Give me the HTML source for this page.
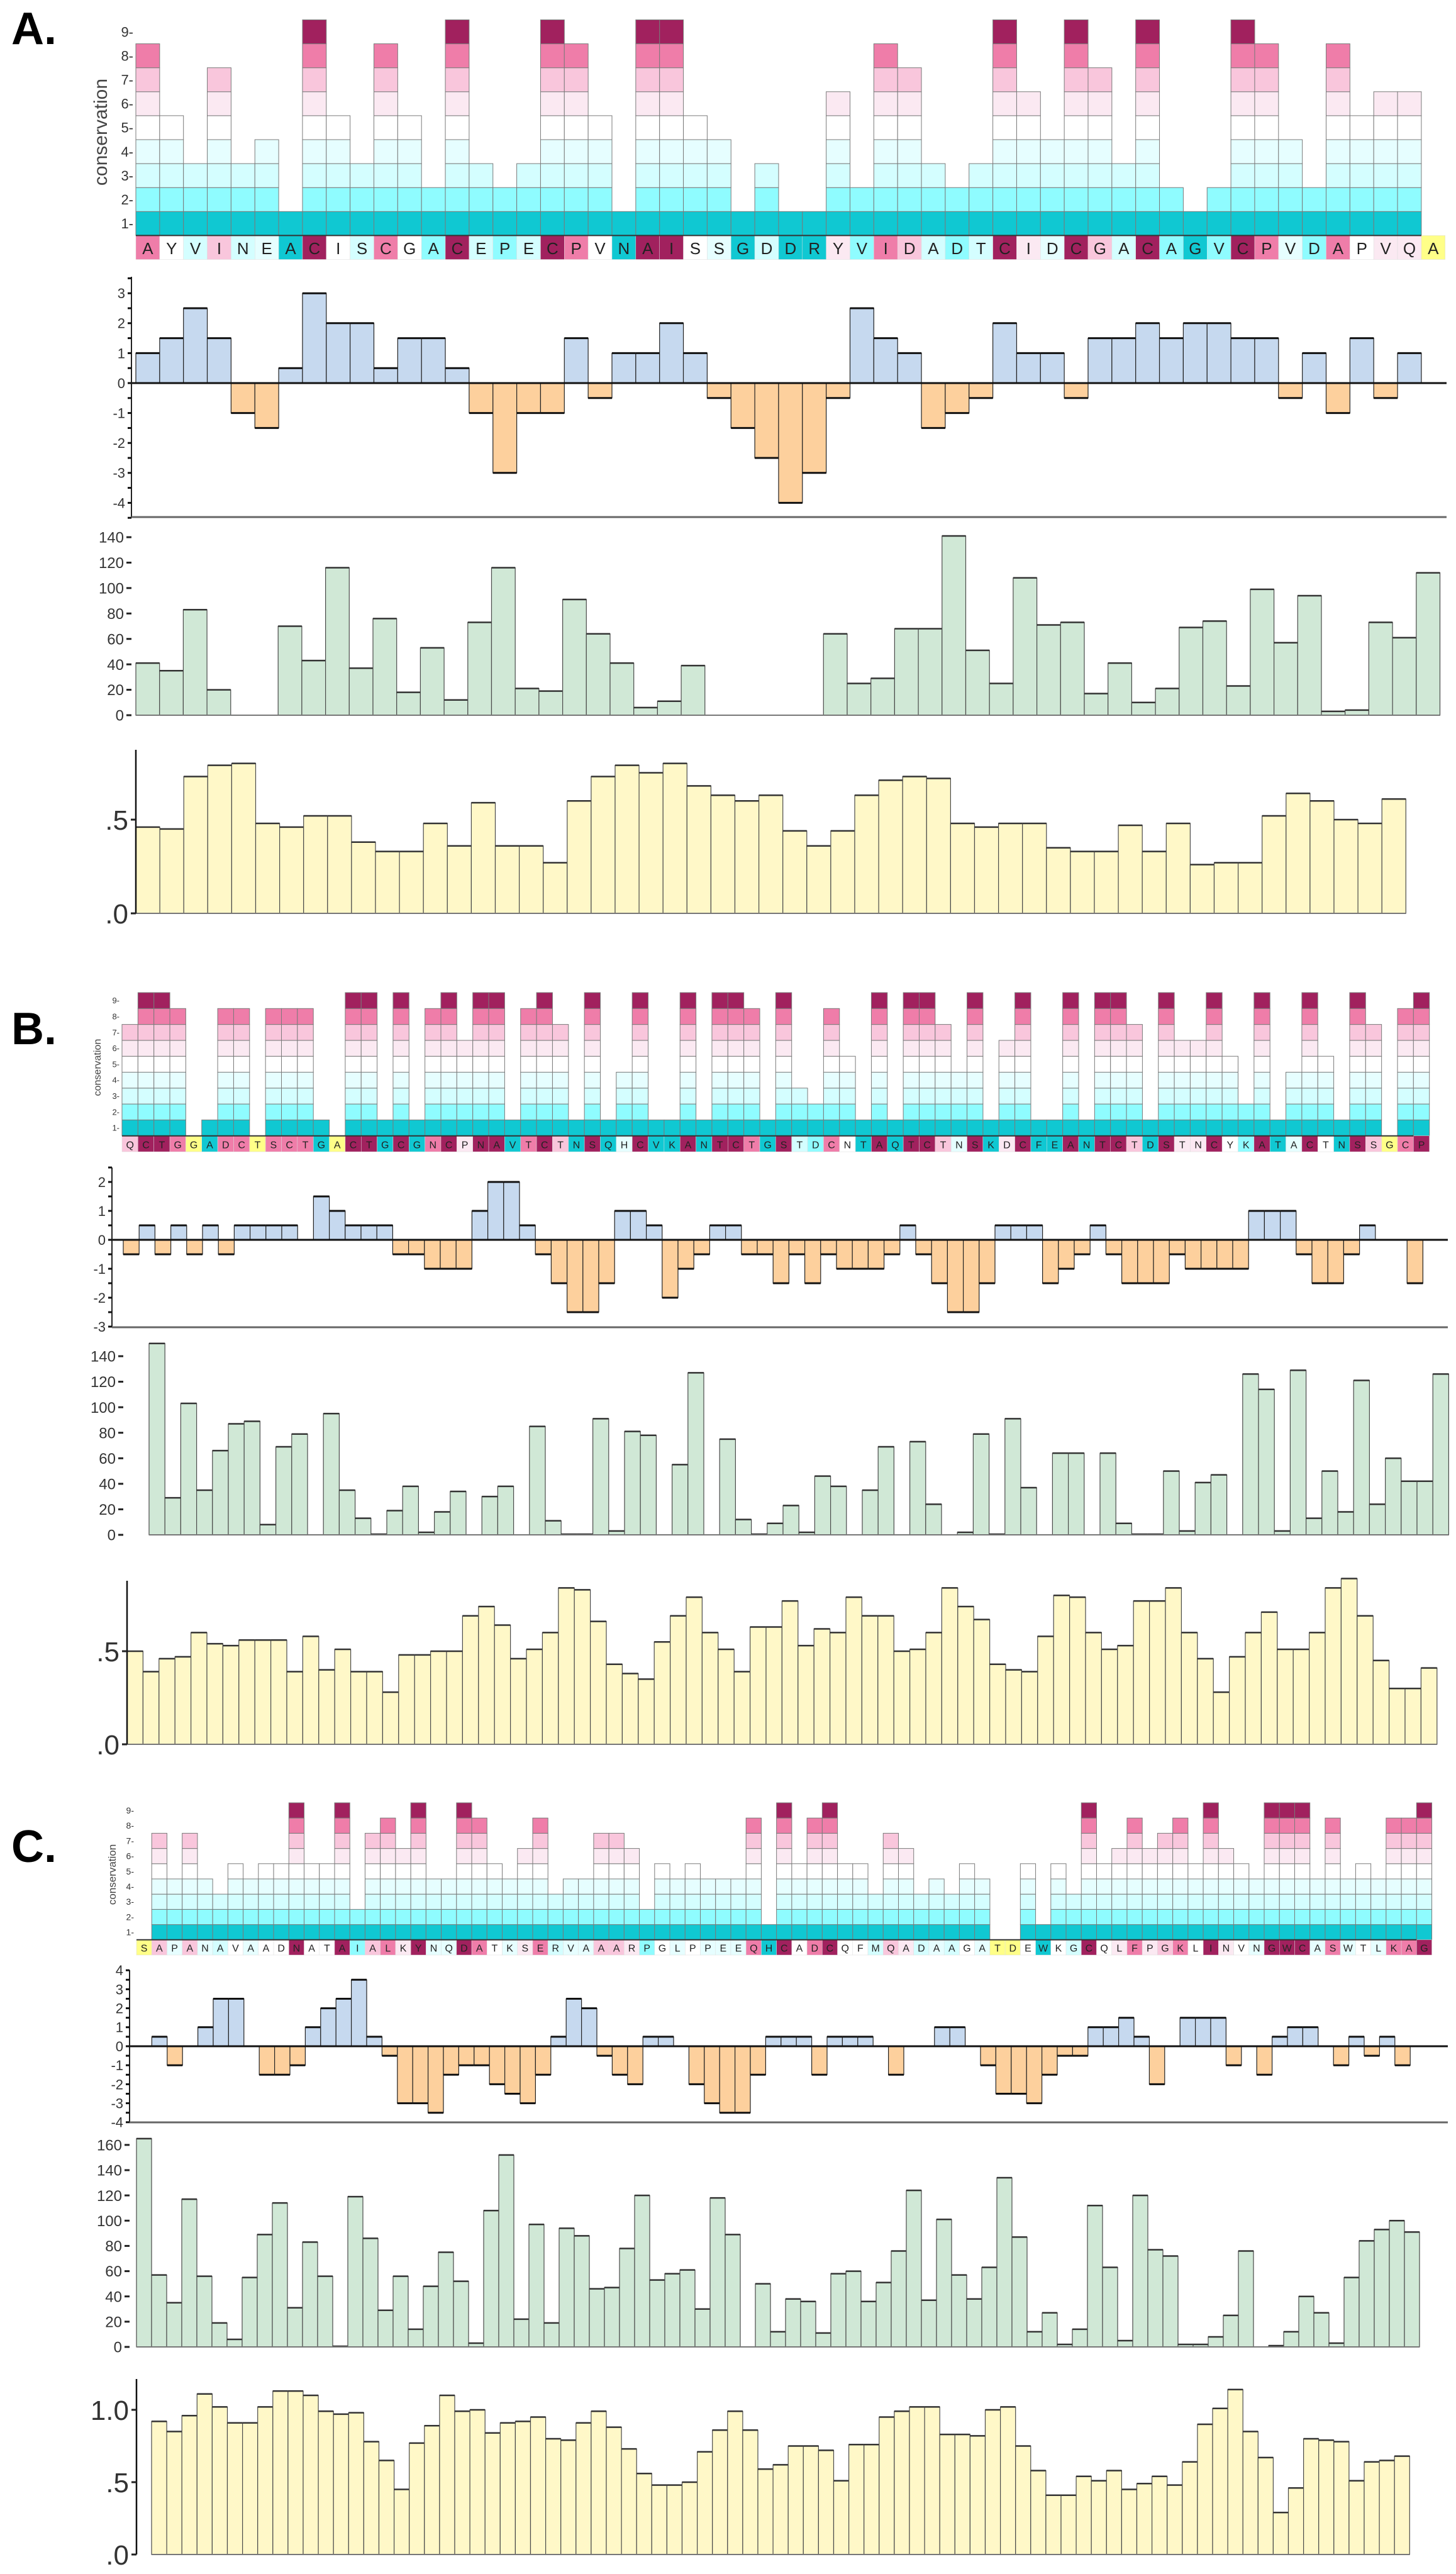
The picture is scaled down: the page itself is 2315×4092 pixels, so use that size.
<!DOCTYPE html>
<html><head><meta charset="utf-8"><title>Conservation profiles</title>
<style>
html,body{margin:0;padding:0;background:#fff;}
svg{display:block;font-family:"Liberation Sans",sans-serif;}
</style></head>
<body>
<svg id="fig" width="2315" height="4092" viewBox="0 0 2315 4092" xmlns="http://www.w3.org/2000/svg">
<text x="18" y="70" font-size="72" font-weight="bold">A.</text>
<text x="18" y="1660" font-size="72" font-weight="bold">B.</text>
<text x="18" y="2960" font-size="72" font-weight="bold">C.</text>
</svg>
<script>
// ---------- Panel A data ----------
const seqA = "AYVINEACISCGACEPECPVNAISSGDDRYVIDADTCIDCGACAGVCPVDAPVQA";
const consA = [8,5,3,7,3,4,1,9,5,3, 8,5,2,9,3,2,3,9,8,5, 1,9,9,5,4,1,3,1,1,6, 2,8,7,3,2,3,9,6,4,9, 7,3,9,2,1,2,9,8,4,2, 8,5,6,6,0];
const hydroA = [1,1.5,2.5,1.5,-1,-1.5,0.5,3,2,2,0.5,1.5,1.5,0.5,-1,-3,-1,-1,1.5,-0.5,1,1,2,1,-0.5,-1.5,-2.5,-4,-3,-0.5,2.5,1.5,1,-1.5,-1,-0.5,2,1,1,-0.5,1.5,1.5,2,1.5,2,2,1.5,1.5,-0.5,1,-1,1.5,-0.5,1];
const greenA = [41,35,83,20,0,0,70,43,116,37,76,18,53,12,73,116,21,19,91,64,41,6,11,39,0,0,0,0,0,64,25,29,68,68,141,51,25,108,71,73,17,41,10,21,69,74,23,99,57,94,3,4,73,61,112];
const yellowA = [.46,.45,.73,.79,.80,.48,.46,.52,.52,.38,.33,.33,.48,.36,.59,.36,.36,.27,.60,.73,.79,.75,.80,.68,.63,.60,.63,.44,.36,.44,.63,.71,.73,.72,.48,.46,.48,.48,.35,.33,.33,.47,.33,.48,.26,.27,.27,.52,.64,.60,.50,.48,.61];
const hydroTicksA = ["-4","-3","-2","-1","0","1","2","3"];
const greenTicksA = ["0","20","40","60","80","100","120","140"];

// ---------- Panel B data ----------
const seqB = "QCTGGADCTSCTGACTGCGNCPNAVTCTNSQHCVKANTCTGSTDCNTAQTCTNSKDCFEANTCTDSTNCYKATACTNSSGCP";
const consB = [7,9,9,8,0,1,8,8,0,8, 8,8,1,0,9,9,1,9,1,8, 9,6,9,9,1,8,9,7,1,9, 1,4,9,1,1,9,1,9,9,8, 1,9,3,2,8,5,1,9,1,9, 9,7,4,9,1,6,9,1,1,9, 1,9,9,7,1,9,6,6,9,5, 2,9,1,4,9,5,1,9,7,0, 8,9];
const hydroB = [-0.5,0.5,-0.5,0.5,-0.5,0.5,-0.5,0.5,0.5,0.5,0.5,0,1.5,1,0.5,0.5,0.5,-0.5,-0.5,-1,-1,-1,1,2,2,0.5,-0.5,-1.5,-2.5,-2.5,-1.5,1,1,0.5,-2,-1,-0.5,0.5,0.5,-0.5,-0.5,-1.5,-0.5,-1.5,-0.5,-1,-1,-1,-0.5,0.5,-0.5,-1.5,-2.5,-2.5,-1.5,0.5,0.5,0.5,-1.5,-1,-0.5,0.5,-0.5,-1.5,-1.5,-1.5,-0.5,-1,-1,-1,-1,1,1,1,-0.5,-1.5,-1.5,-0.5,0.5,0,0,-1.5];
const greenB = [150,29,103,35,66,87,89,8,69,79,0,95,35,13,0.5,19,38,2,18,34,0,30,38,0,85,11,0.5,0.5,91,3,81,78,0,55,127,0,75,12,0.5,9,23,2,46,38,0,35,69,0,73,24,0,2,79,0.5,91,37,0,64,64,0,64,9,0.5,0.5,50,3,41,47,0,126,114,3,129,13,50,18,121,24,60,42,42,126];
const yellowB = [.50,.39,.46,.47,.60,.54,.53,.56,.56,.56,.39,.58,.40,.51,.39,.39,.28,.48,.48,.50,.50,.69,.74,.64,.46,.51,.60,.84,.83,.66,.43,.38,.35,.55,.69,.79,.60,.51,.39,.63,.63,.77,.53,.62,.60,.79,.69,.69,.50,.51,.60,.84,.74,.67,.43,.40,.39,.58,.80,.79,.60,.51,.53,.77,.77,.84,.60,.46,.28,.47,.60,.71,.51,.51,.60,.84,.89,.69,.45,.30,.30,.41];
const hydroTicksB = ["-3","-2","-1","0","1","2"];
const greenTicksB = ["0","20","40","60","80","100","120","140"];

// ---------- Panel C data ----------
const seqC = "SAPANAVAADNATAIALKYNQDATKSERVAAARPGLPPEEQHCADCQFMQADAAGATDEWKGCQLFPGKLINVNGWCASWTLKAG";
const consC = [0,7,4,7,4,3,5,4,5,5, 9,5,5,9,2,7,8,6,9,4, 4,9,8,5,4,6,8,3,4,4, 7,7,6,2,5,4,5,4,4,4, 8,1,9,5,8,9,5,5,3,7, 6,3,4,3,5,4,0,0,5,1, 5,3,9,5,6,8,6,7,8,5, 9,6,5,4,9,9,9,4,8,4, 5,4,8,8,9];
const hydroC = [0,0.5,-1,0,1,2.5,2.5,0,-1.5,-1.5,-1,1,2,2.5,3.5,0.5,-0.5,-3,-3,-3.5,-1.5,-1,-1,-2,-2.5,-3,-1.5,0.5,2.5,2,-0.5,-1.5,-2,0.5,0.5,0,-2,-3,-3.5,-3.5,-1.5,0.5,0.5,0.5,-1.5,0.5,0.5,0.5,0,-1.5,0,0,1,1,0,-1,-2.5,-2.5,-3,-1.5,-0.5,-0.5,1,1,1.5,0.5,-2,0,1.5,1.5,1.5,-1,0,-1.5,0.5,1,1,0,-1,0.5,-0.5,0.5,-1];
const greenC = [165,57,35,117,56,19,6,55,89,114,31,83,56,0.5,119,86,29,56,14,48,75,52,3,108,152,22,97,19,94,88,46,47,78,120,53,58,61,30,118,89,0,50,12,38,36,11,58,60,36,51,76,124,37,101,57,38,63,134,87,12,27,2,14,112,63,5,120,77,72,2,2,8,25,76,0,1,12,40,27,3,55,84,93,100,91];
const yellowC = [.92,.85,.96,1.11,1.02,.91,.91,1.02,1.13,1.13,1.10,.99,.97,.98,.78,.65,.45,.77,.89,1.10,.99,1.00,.84,.91,.92,.95,.80,.79,.91,.99,.88,.73,.56,.48,.48,.50,.71,.86,.99,.86,.59,.62,.75,.75,.72,.51,.76,.76,.95,.99,1.02,1.02,.83,.83,.82,1.00,1.02,.75,.58,.41,.41,.54,.51,.58,.45,.49,.54,.48,.64,.90,1.01,1.14,.85,.67,.29,.46,.80,.79,.78,.51,.64,.65,.68];
const hydroTicksC = ["-4","-3","-2","-1","0","1","2","3","4"];
const greenTicksC = ["0","20","40","60","80","100","120","140","160"];

// ---------- drawing helpers ----------
const svg = document.getElementById('fig');
const NS = "http://www.w3.org/2000/svg";
const consColors = ["#ffff88","#10c8d2","#8ffcff","#d4feff","#e6feff","#ffffff","#fbe9f2","#f9c6dc","#ef7da9","#a1215e"];
function mk(tag, attrs, parent){
  const e = document.createElementNS(NS, tag);
  for (const k in attrs) e.setAttribute(k, attrs[k]);
  (parent||svg).appendChild(e);
  return e;
}
function group(name){
  const g = mk('g', {});
  
  
  return g;
}

function drawCons(p){
  const g = group(p.name);
  const n = p.seq.length;
  for (let i=0;i<n;i++){
    const x = p.x0 + i*p.w;
    for (let lev=1; lev<=p.cons[i]; lev++){
      const r = mk('rect', {x:x, y:p.top+(9-lev)*p.rh, width:p.w, height:p.rh, fill:consColors[lev], stroke:"#7a7a7a", "stroke-width":1}, g);
      
      
    }
    const by = p.top + 9*p.rh;
    const b = mk('rect', {x:x, y:by, width:p.w, height:p.rh, fill:consColors[p.cons[i]], stroke:"#ddd", "stroke-width":0.5}, g);
    
    
    const t = mk('text', {x:x+p.w/2, y:by+p.rh*0.78, "font-size":p.fs, "text-anchor":"middle", fill:"#222"}, g);
    t.textContent = p.seq[i];
    
    
  }
  mk('line', {x1:p.x0, x2:p.x0+(n-1)*p.w, y1:p.top+9*p.rh, y2:p.top+9*p.rh, stroke:"#333", "stroke-width":2}, g);
  for (let lev=1; lev<=9; lev++){
    const t = mk('text', {x:p.x0-4, y:p.top+(9-lev)*p.rh+p.rh/2+p.afs*0.35, "font-size":p.afs, "text-anchor":"end", fill:"#333"}, g);
    t.textContent = lev + "-";
    
    
  }
  const cy = p.ly;
  const lab = mk('text', {x:p.lx, y:cy, "font-size":p.lfs, "text-anchor":"middle", fill:"#444", transform:"rotate(-90 "+p.lx+" "+cy+")"}, g);
  lab.textContent = "conservation";
  
  
}

function drawHydro(p){
  const g = group(p.name);
  const ys = v => p.y0 - v*p.k;
  for (let i=0;i<p.vals.length;i++){
    const v = p.vals[i];
    if (v === 0) continue;
    const x = p.x0 + i*p.w;
    const r = mk('rect', {x:x, y:Math.min(ys(v),p.y0), width:p.w, height:Math.abs(v*p.k), fill: v>0?"#c6d9ef":"#fdd09d", stroke:"#222", "stroke-width":1.2}, g);
    
    
    mk('line', {x1:x, x2:x+p.w, y1:ys(v), y2:ys(v), stroke:"#111", "stroke-width":3}, g);
  }
  mk('line', {x1:p.ax, x2:p.xe, y1:p.y0, y2:p.y0, stroke:"#111", "stroke-width":3}, g);
  mk('line', {x1:p.ax, x2:p.ax, y1:p.ytop, y2:p.ybot, stroke:"#222", "stroke-width":2}, g);
  mk('line', {x1:p.ax, x2:p.xe, y1:p.ybot, y2:p.ybot, stroke:"#666", "stroke-width":3}, g);
  for (let t=p.tmin; t<=p.tmax+1e-9; t+=0.5){
    mk('line', {x1:p.ax-6, x2:p.ax, y1:ys(t), y2:ys(t), stroke:"#111", "stroke-width":3}, g);
  }
  p.ticks.forEach(s=>{
    const v = parseFloat(s);
    const t = mk('text', {x:p.ax-10, y:ys(v)+p.fs*0.36, "font-size":p.fs, "text-anchor":"end", fill:"#333"}, g);
    t.textContent = s;
    
    
  });
}

function drawBars(p){
  const g = group(p.name);
  const ys = v => p.y0 - v*p.k;
  for (let i=0;i<p.vals.length;i++){
    const v = p.vals[i];
    if (v <= 0) continue;
    const x = p.x0 + i*p.w;
    const r = mk('rect', {x:x, y:ys(v), width:p.w, height:v*p.k, fill:p.fill, stroke:"#4a4a4a", "stroke-width":1.2}, g);
    
    
    mk('line', {x1:x, x2:x+p.w, y1:ys(v), y2:ys(v), stroke:"#333", "stroke-width":2.5}, g);
  }
  mk('line', {x1:p.x0, x2:p.x0+p.vals.length*p.w, y1:p.y0, y2:p.y0, stroke:"#777", "stroke-width":2}, g);
  if (p.vline) mk('line', {x1:p.ax, x2:p.ax, y1:p.ytop, y2:p.y0, stroke:"#111", "stroke-width":2.5}, g);
  p.ticks.forEach(s=>{
    const v = parseFloat(s);
    mk('line', {x1:p.ax-8, x2:p.ax, y1:ys(v), y2:ys(v), stroke:"#222", "stroke-width":3}, g);
    const t = mk('text', {x:p.ax-12, y:ys(v)+p.fs*0.36, "font-size":p.fs, "text-anchor":"end", fill:"#333"}, g);
    t.textContent = s;
    
    
  });
}

// ---------- Panel A ----------
drawCons({name:"panel-a-conservation", seq:seqA, cons:consA, x0:216, w:37.85, top:31.5, rh:38.1, fs:26, afs:22, lx:170, ly:210, lfs:30});
drawHydro({name:"panel-a-hydrophobicity", vals:hydroA, x0:216, w:37.85, y0:609, k:47.6, ax:209, xe:2300, ytop:440, ybot:822, tmin:-4.5, tmax:3.5, ticks:hydroTicksA, fs:22});
drawBars({name:"panel-a-green-bars", vals:greenA, x0:216, w:37.7, y0:1137, k:283/140, ax:209, ytop:850, ticks:greenTicksA, fs:24, fill:"#d0e8d6", barName:"green-bar", tickName:"green-tick-label", vline:false});
drawBars({name:"panel-a-yellow-bars", vals:yellowA, x0:216, w:38.1, y0:1452, k:298, ax:216, ytop:1192, ticks:[".0",".5"], fs:44, fill:"#fff8c8", barName:"yellow-bar", tickName:"yellow-tick-label", vline:true});

// ---------- Panel B ----------
drawCons({name:"panel-b-conservation", seq:seqB, cons:consB, x0:194, w:25.35, top:1578, rh:25.3, fs:16, afs:13, lx:160, ly:1697, lfs:16});
drawHydro({name:"panel-b-hydrophobicity", vals:hydroB, x0:196, w:25.2, y0:1971, k:46, ax:178, xe:2302, ytop:1856, ybot:2110, tmin:-3, tmax:2.5, ticks:hydroTicksB, fs:22});
drawBars({name:"panel-b-green-bars", vals:greenB, x0:237, w:25.2, y0:2440, k:284/140, ax:196, ytop:2150, ticks:greenTicksB, fs:24, fill:"#d0e8d6", barName:"green-bar", tickName:"green-tick-label", vline:false});
drawBars({name:"panel-b-yellow-bars", vals:yellowB, x0:202, w:25.4, y0:2773, k:296, ax:202, ytop:2513, ticks:[".0",".5"], fs:44, fill:"#fff8c8", barName:"yellow-bar", tickName:"yellow-tick-label", vline:true});

// ---------- Panel C ----------
drawCons({name:"panel-c-conservation", seq:seqC, cons:consC, x0:217, w:24.23, top:2866, rh:24.2, fs:16, afs:14, lx:184, ly:2980, lfs:17});
drawHydro({name:"panel-c-hydrophobicity", vals:hydroC, x0:217, w:24.4, y0:3253, k:30.2, ax:206, xe:2302, ytop:3132, ybot:3374, tmin:-4, tmax:4, ticks:hydroTicksC, fs:22});
drawBars({name:"panel-c-green-bars", vals:greenC, x0:217, w:24.0, y0:3731, k:281/140, ax:206, ytop:3400, ticks:greenTicksC, fs:24, fill:"#d0e8d6", barName:"green-bar", tickName:"green-tick-label", vline:false});
drawBars({name:"panel-c-yellow-bars", vals:yellowC, x0:241, w:24.1, y0:4061, k:230, ax:217, ytop:3782, ticks:[".0",".5","1.0"], fs:44, fill:"#fff8c8", barName:"yellow-bar", tickName:"yellow-tick-label", vline:true});
</script>
</body></html>
